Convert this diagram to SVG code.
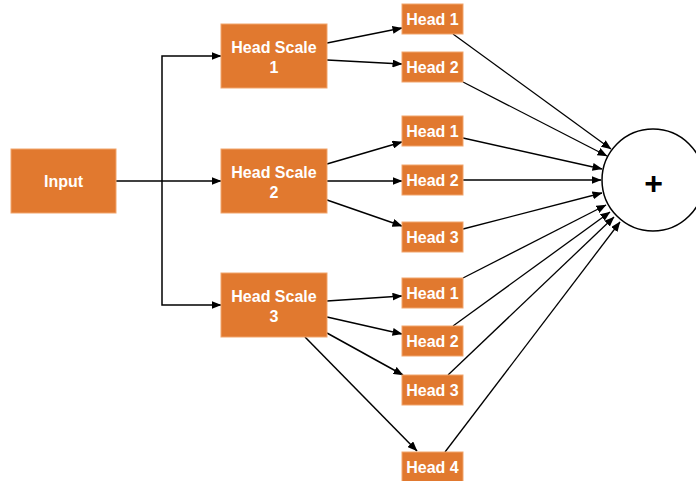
<svg xmlns="http://www.w3.org/2000/svg" width="696" height="481" viewBox="0 0 696 481">
<defs>
<marker id="ah" markerUnits="userSpaceOnUse" markerWidth="10" markerHeight="8" refX="9.5" refY="4" orient="auto">
<path d="M0,0 L10,4 L0,8 Z" fill="#000"/>
</marker>
<style>
.box{fill:#E1792F;stroke:#F1A56C;stroke-width:1}
.lbl{font-family:"Liberation Sans",Arial,sans-serif;font-weight:bold;font-size:16px;fill:#fff;text-anchor:middle}
.c{fill:none;stroke:#000;stroke-width:1.5}
.c2{fill:none;stroke:#000;stroke-width:1.3;marker-end:url(#ah)}
.ca{fill:none;stroke:#000;stroke-width:1.5;marker-end:url(#ah)}
</style>
</defs>
<rect width="696" height="481" fill="#fff"/>
<g id="connectors">
<path class="c" d="M116,181 L162,181"/>
<path class="ca" d="M162,181 L221,181"/>
<path class="ca" d="M162,181 L162,56 L221,56"/>
<path class="ca" d="M162,181 L162,305 L221,305"/>
<path class="ca" d="M327,43 L402,28"/>
<path class="ca" d="M327,60 L402,64"/>
<path class="ca" d="M327,164 L402,142"/>
<path class="ca" d="M327,181 L402,181"/>
<path class="ca" d="M327,200 L402,226"/>
<path class="ca" d="M327,301 L402,296"/>
<path class="ca" d="M327,317 L402,334"/>
<path class="ca" d="M327,333 L403,375"/>
<path class="ca" d="M305,337 L417,451"/>
<path class="c2" d="M453,34 L611,149"/>
<path class="c2" d="M463,82 L607,156"/>
<path class="c2" d="M463,138 L602,169"/>
<path class="c2" d="M463,180 L601,180"/>
<path class="c2" d="M463,229 L602,193"/>
<path class="c2" d="M463,278 L606,205"/>
<path class="c2" d="M453,326 L610,212"/>
<path class="c2" d="M448,375 L614,217"/>
<path class="c2" d="M445,452 L620,222"/>
</g>
<g id="input"><rect class="box" x="11" y="149" width="105" height="64"/><text class="lbl" x="63.5" y="187">Input</text></g>
<g id="scale1"><rect class="box" x="221" y="24" width="106" height="64"/><text class="lbl" x="274" y="53">Head Scale</text><text class="lbl" x="274" y="73">1</text></g>
<g id="scale2"><rect class="box" x="221" y="149" width="106" height="64"/><text class="lbl" x="274" y="178">Head Scale</text><text class="lbl" x="274" y="198">2</text></g>
<g id="scale3"><rect class="box" x="221" y="273" width="106" height="64"/><text class="lbl" x="274" y="302">Head Scale</text><text class="lbl" x="274" y="322">3</text></g>
<g id="s1h1"><rect class="box" x="402" y="4" width="61" height="30"/><text class="lbl" x="432.5" y="25">Head 1</text></g>
<g id="s1h2"><rect class="box" x="402" y="52" width="61" height="30"/><text class="lbl" x="432.5" y="73">Head 2</text></g>
<g id="s2h1"><rect class="box" x="402" y="116" width="61" height="30"/><text class="lbl" x="432.5" y="137">Head 1</text></g>
<g id="s2h2"><rect class="box" x="402" y="165" width="61" height="30"/><text class="lbl" x="432.5" y="186">Head 2</text></g>
<g id="s2h3"><rect class="box" x="402" y="222" width="61" height="30"/><text class="lbl" x="432.5" y="243">Head 3</text></g>
<g id="s3h1"><rect class="box" x="402" y="278" width="61" height="30"/><text class="lbl" x="432.5" y="299">Head 1</text></g>
<g id="s3h2"><rect class="box" x="402" y="326" width="61" height="30"/><text class="lbl" x="432.5" y="347">Head 2</text></g>
<g id="s3h3"><rect class="box" x="402" y="375" width="61" height="30"/><text class="lbl" x="432.5" y="396">Head 3</text></g>
<g id="s3h4"><rect class="box" x="402" y="452" width="61" height="30"/><text class="lbl" x="432.5" y="473">Head 4</text></g>
<g id="sum"><circle cx="653" cy="180" r="51" fill="#fff" stroke="#000" stroke-width="1.5"/><text x="653.5" y="194" font-family="Liberation Sans,Arial,sans-serif" font-weight="bold" font-size="32" text-anchor="middle" fill="#000">+</text></g>
</svg>
